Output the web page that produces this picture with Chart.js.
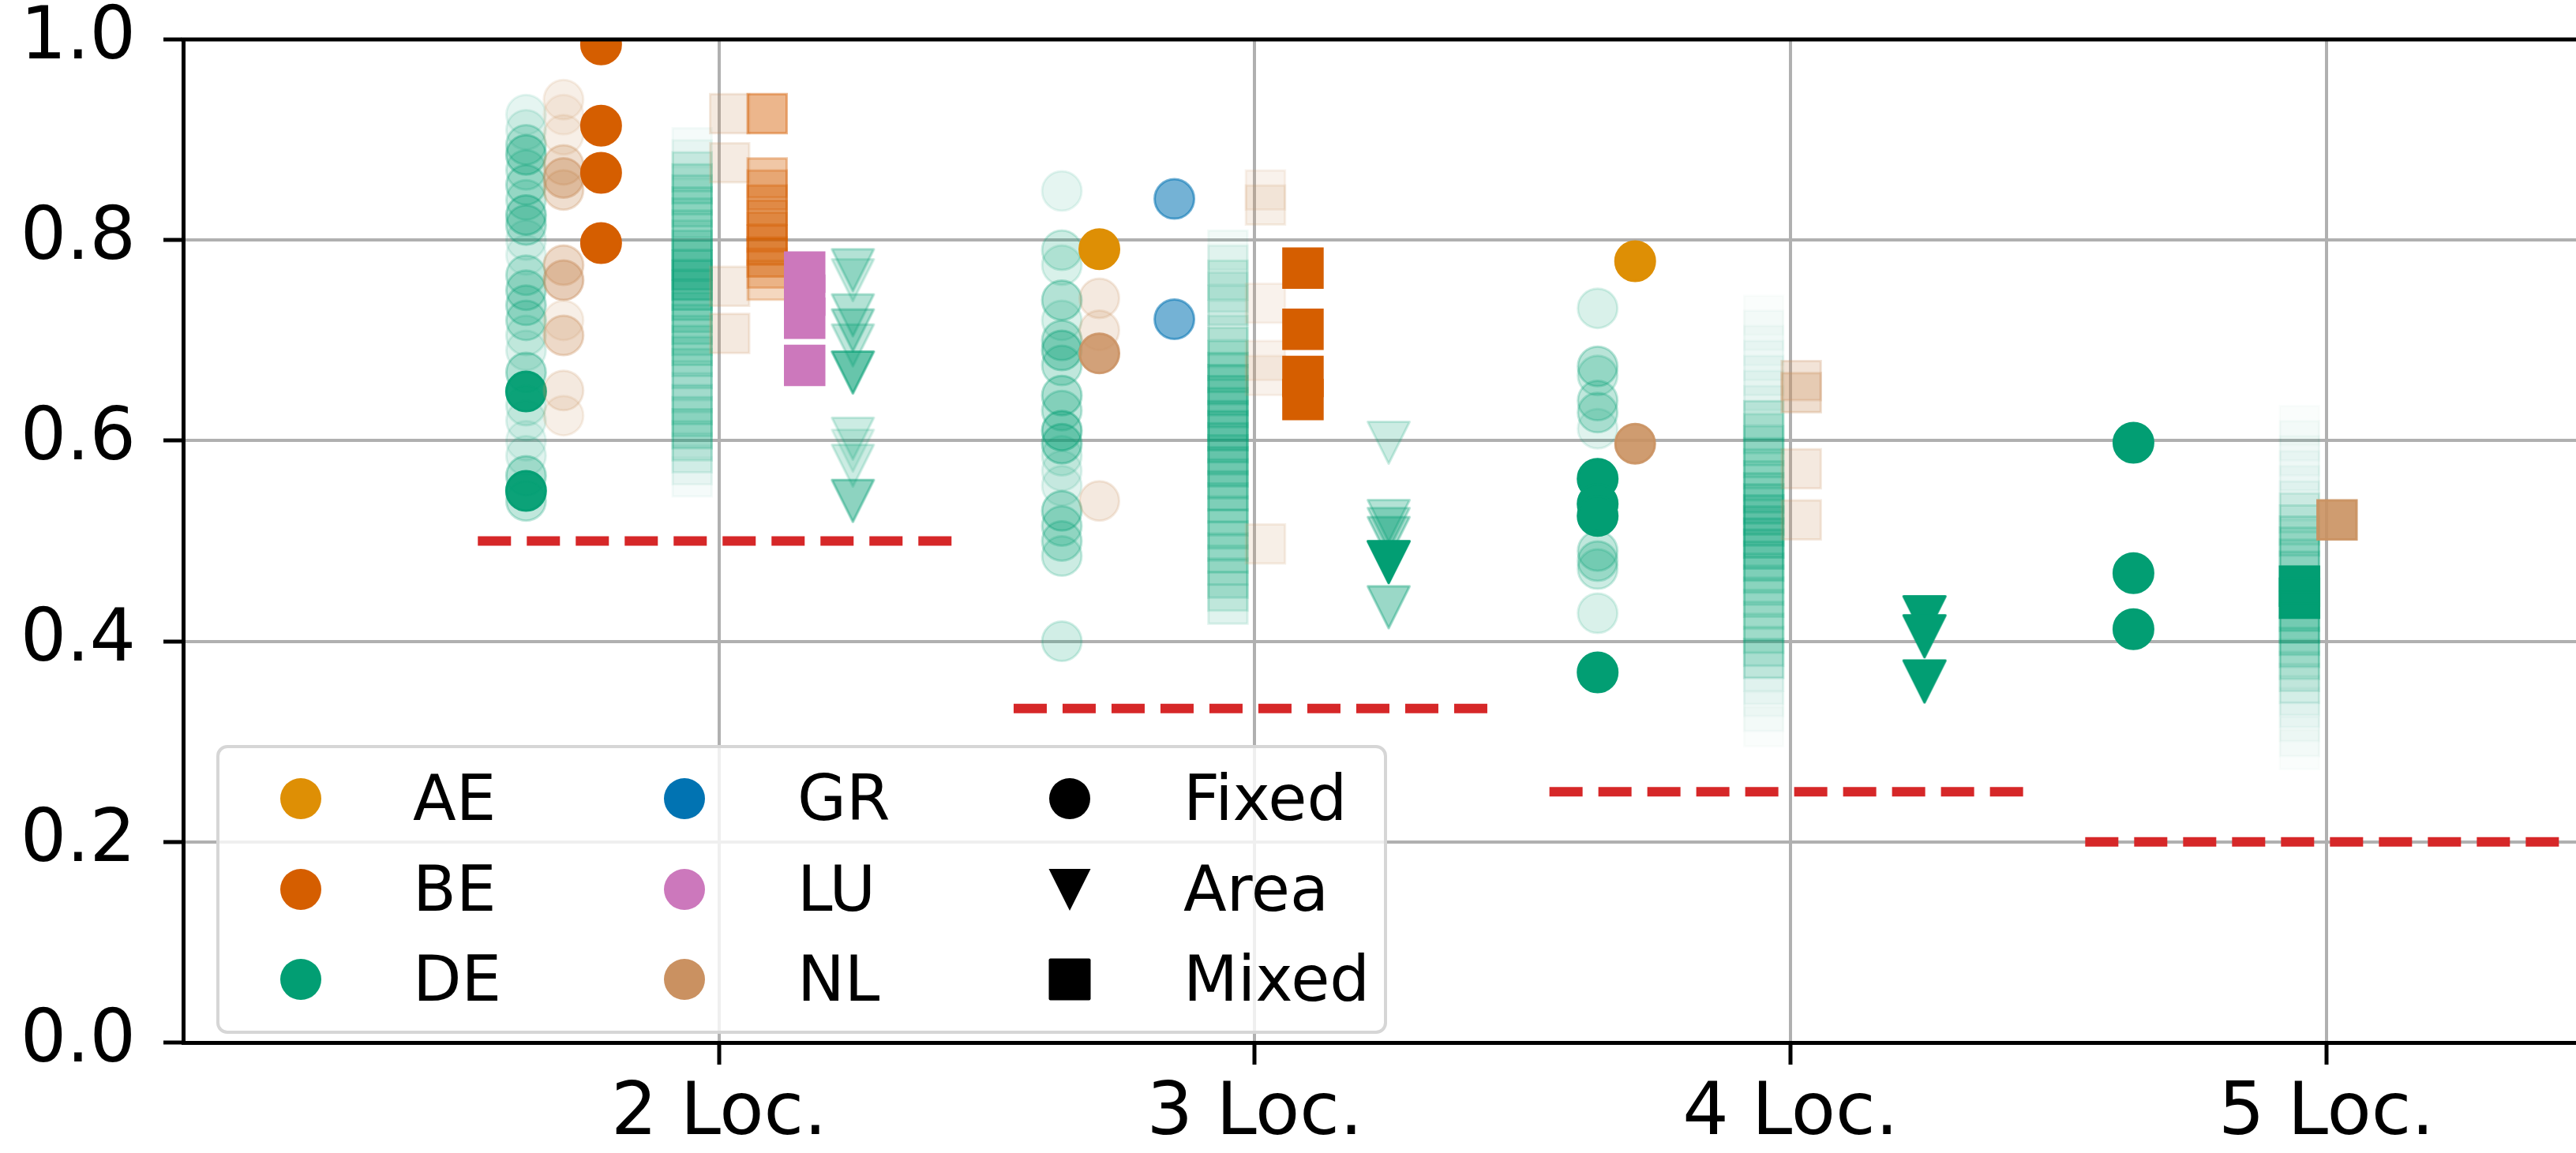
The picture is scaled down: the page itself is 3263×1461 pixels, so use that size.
<!DOCTYPE html>
<html>
<head>
<meta charset="utf-8">
<title>Score per number of locations</title>
<script src="https://cdn.jsdelivr.net/npm/chart.js@4.4.1/dist/chart.umd.min.js"></script>
<style>
  html, body { margin: 0; padding: 0; background: #fff; overflow: hidden; }
  #wrap { position: relative; width: 3263px; height: 1461px; }
  #legend {
    position: absolute; left: 274px; top: 944px; width: 1475px; height: 358px;
    border: 4px solid #d6d6d6; border-radius: 14px; background: rgba(255, 255, 255, 0.8);
    font-family: 'DejaVu Sans', sans-serif; font-size: 80px; color: #000;
  }
  #legend svg, #legend span { position: absolute; }
  #legend span { line-height: 100px; white-space: nowrap; }
</style>
</head>
<body>
<div id="wrap">
  <canvas id="scoreChart" width="3263" height="1461"></canvas>
  <div id="legend"></div>
</div>
<script>
'use strict';

// x categories and y ticks
const locCounts = [2, 3, 4, 5];
const locLabels = ['2 Loc.', '3 Loc.', '4 Loc.', '5 Loc.'];
const yTicks = [0, 0.2, 0.4, 0.6, 0.8, 1.0];
// guessing baseline of each group (red dashed lines)
const chanceLevel = [0.5, 0.333, 0.25, 0.2];

const countries = ['AE', 'BE', 'DE', 'GR', 'LU', 'NL'];
const methods = ['Fixed', 'Area', 'Mixed'];

// every point: [locations, score, weight]  (weight -> marker opacity)
const fixedDE = [
    [2, 0.925, 0.1], [2, 0.91, 0.12], [2, 0.895, 0.25], [2, 0.885, 0.35], [2, 0.87, 0.2],
    [2, 0.855, 0.28], [2, 0.84, 0.2], [2, 0.825, 0.35], [2, 0.815, 0.28], [2, 0.80, 0.12],
    [2, 0.785, 0.1], [2, 0.765, 0.25], [2, 0.75, 0.28], [2, 0.735, 0.28], [2, 0.72, 0.25],
    [2, 0.705, 0.15], [2, 0.69, 0.12], [2, 0.668, 0.3], [2, 0.649, 0.95], [2, 0.635, 0.15],
    [2, 0.62, 0.12], [2, 0.60, 0.1], [2, 0.585, 0.12], [2, 0.565, 0.3], [2, 0.55, 0.95],
    [2, 0.54, 0.25],
    [3, 0.849, 0.1], [3, 0.79, 0.2], [3, 0.775, 0.15], [3, 0.74, 0.3], [3, 0.72, 0.15],
    [3, 0.70, 0.28], [3, 0.69, 0.35], [3, 0.675, 0.25], [3, 0.645, 0.32], [3, 0.63, 0.25],
    [3, 0.61, 0.4], [3, 0.597, 0.35], [3, 0.585, 0.15], [3, 0.57, 0.12], [3, 0.555, 0.12],
    [3, 0.53, 0.32], [3, 0.515, 0.25], [3, 0.50, 0.25], [3, 0.485, 0.2], [3, 0.40, 0.18],
    [4, 0.732, 0.15], [4, 0.674, 0.28], [4, 0.665, 0.2], [4, 0.64, 0.25], [4, 0.628, 0.25],
    [4, 0.612, 0.12], [4, 0.562, 1], [4, 0.537, 1], [4, 0.525, 1], [4, 0.49, 0.25],
    [4, 0.48, 0.25], [4, 0.472, 0.2], [4, 0.428, 0.15], [4, 0.369, 1],
    [5, 0.598, 1], [5, 0.468, 1], [5, 0.412, 1]
];
const fixedNL = [
    [2, 0.94, 0.15], [2, 0.925, 0.12], [2, 0.905, 0.15], [2, 0.875, 0.3], [2, 0.862, 0.45],
    [2, 0.85, 0.3], [2, 0.775, 0.35], [2, 0.76, 0.45], [2, 0.72, 0.15], [2, 0.705, 0.35],
    [2, 0.65, 0.2], [2, 0.625, 0.15],
    [3, 0.742, 0.2], [3, 0.71, 0.2], [3, 0.687, 0.85], [3, 0.54, 0.2],
    [4, 0.597, 0.9]
];
const fixedAE = [[3, 0.791, 1], [4, 0.779, 1]];
const fixedBE = [[2, 0.995, 1], [2, 0.914, 1], [2, 0.867, 1], [2, 0.797, 1]];
const fixedGR = [[3, 0.841, 0.55], [3, 0.721, 0.55]];

const mixedDE = [
    [2, 0.892, 0.04], [2, 0.88, 0.06], [2, 0.868, 0.15], [2, 0.856, 0.2], [2, 0.845, 0.18],
    [2, 0.833, 0.2], [2, 0.822, 0.18], [2, 0.81, 0.2], [2, 0.80, 0.15], [2, 0.79, 0.2],
    [2, 0.78, 0.28], [2, 0.77, 0.32], [2, 0.76, 0.35], [2, 0.75, 0.3], [2, 0.74, 0.25],
    [2, 0.728, 0.2], [2, 0.716, 0.2], [2, 0.705, 0.18], [2, 0.695, 0.2], [2, 0.684, 0.18],
    [2, 0.672, 0.18], [2, 0.66, 0.12], [2, 0.648, 0.12], [2, 0.636, 0.18], [2, 0.624, 0.18],
    [2, 0.612, 0.2], [2, 0.60, 0.15], [2, 0.588, 0.1], [2, 0.576, 0.06], [2, 0.564, 0.04],
    [3, 0.79, 0.05], [3, 0.775, 0.08], [3, 0.76, 0.15], [3, 0.748, 0.1], [3, 0.735, 0.12],
    [3, 0.72, 0.08], [3, 0.705, 0.12], [3, 0.693, 0.15], [3, 0.68, 0.2], [3, 0.668, 0.25],
    [3, 0.656, 0.28], [3, 0.645, 0.28], [3, 0.633, 0.25], [3, 0.62, 0.28], [3, 0.61, 0.3],
    [3, 0.598, 0.28], [3, 0.586, 0.25], [3, 0.574, 0.28], [3, 0.562, 0.2], [3, 0.55, 0.25],
    [3, 0.538, 0.2], [3, 0.525, 0.18], [3, 0.512, 0.2], [3, 0.50, 0.18], [3, 0.488, 0.18],
    [3, 0.476, 0.15], [3, 0.463, 0.18], [3, 0.45, 0.15], [3, 0.437, 0.12],
    [4, 0.725, 0.02], [4, 0.71, 0.03], [4, 0.695, 0.03], [4, 0.68, 0.04], [4, 0.665, 0.05],
    [4, 0.65, 0.05], [4, 0.635, 0.06], [4, 0.62, 0.2], [4, 0.607, 0.15], [4, 0.595, 0.18],
    [4, 0.583, 0.2], [4, 0.572, 0.18], [4, 0.56, 0.2], [4, 0.548, 0.25], [4, 0.537, 0.28],
    [4, 0.526, 0.3], [4, 0.515, 0.28], [4, 0.503, 0.3], [4, 0.492, 0.28], [4, 0.48, 0.25],
    [4, 0.468, 0.2], [4, 0.456, 0.18], [4, 0.444, 0.18], [4, 0.432, 0.15], [4, 0.42, 0.15],
    [4, 0.408, 0.15], [4, 0.395, 0.15], [4, 0.383, 0.18], [4, 0.37, 0.06], [4, 0.357, 0.04],
    [4, 0.345, 0.03], [4, 0.33, 0.03], [4, 0.315, 0.02],
    [5, 0.615, 0.02], [5, 0.60, 0.03], [5, 0.585, 0.03], [5, 0.57, 0.04], [5, 0.555, 0.04],
    [5, 0.54, 0.06], [5, 0.528, 0.12], [5, 0.516, 0.15], [5, 0.505, 0.18], [5, 0.494, 0.18],
    [5, 0.482, 0.18], [5, 0.47, 0.2], [5, 0.455, 1], [5, 0.443, 1], [5, 0.43, 0.25],
    [5, 0.418, 0.25], [5, 0.406, 0.2], [5, 0.394, 0.18], [5, 0.382, 0.15], [5, 0.37, 0.12],
    [5, 0.358, 0.09], [5, 0.346, 0.06], [5, 0.334, 0.04], [5, 0.32, 0.03], [5, 0.305, 0.03],
    [5, 0.292, 0.02]
];
const mixedNL = [
    [2, 0.926, 0.2], [2, 0.877, 0.18], [2, 0.754, 0.18], [2, 0.707, 0.2],
    [3, 0.85, 0.12], [3, 0.835, 0.15], [3, 0.737, 0.12], [3, 0.68, 0.12], [3, 0.665, 0.12],
    [3, 0.497, 0.15],
    [4, 0.66, 0.25], [4, 0.648, 0.3], [4, 0.572, 0.2], [4, 0.521, 0.2],
    [5, 0.521, 0.9]
];
const mixedBE = [
    [2, 0.926, 0.45], [2, 0.862, 0.35], [2, 0.85, 0.3], [2, 0.835, 0.35], [2, 0.82, 0.4],
    [2, 0.808, 0.35], [2, 0.795, 0.45], [2, 0.783, 0.4], [2, 0.772, 0.3], [2, 0.76, 0.25],
    [3, 0.772, 1], [3, 0.711, 1], [3, 0.664, 1], [3, 0.641, 1]
];
const mixedLU = [[2, 0.768, 1], [2, 0.745, 1], [2, 0.722, 1], [2, 0.675, 1]];

const areaDE = [
    [2, 0.77, 0.3], [2, 0.76, 0.2], [2, 0.725, 0.3], [2, 0.71, 0.35], [2, 0.695, 0.25],
    [2, 0.668, 0.6], [2, 0.602, 0.2], [2, 0.59, 0.15], [2, 0.575, 0.2], [2, 0.54, 0.45],
    [3, 0.598, 0.2], [3, 0.52, 0.3], [3, 0.512, 0.3], [3, 0.503, 0.35], [3, 0.479, 1],
    [3, 0.434, 0.4],
    [4, 0.424, 1], [4, 0.405, 1], [4, 0.36, 1]
];

// ---- styling ----
const countryColors = {
    AE: '#de8f05', BE: '#d55e00', DE: '#029e73',
    GR: '#0173b2', LU: '#cc78bc', NL: '#ca9161'
};
// horizontal shift of each method/country column inside a group
const offsets = {
    Fixed: { DE: -0.36, AE: -0.29, NL: -0.29, BE: -0.22, GR: -0.15 },
    Mixed: { DE: -0.05, NL: 0.02, BE: 0.09, LU: 0.16 },
    Area: { DE: 0.25 }
};

function rgba(hex, a) {
    const n = parseInt(hex.slice(1), 16);
    return 'rgba(' + (n >> 16) + ',' + ((n >> 8) & 255) + ',' + (n & 255) + ',' + a + ')';
}

// downward triangle marker (matplotlib 'v'), cached per colour/opacity
const triCache = {};
function triangleDown(color, alpha) {
    const key = color + '_' + alpha;
    if (triCache[key]) return triCache[key];
    const c = document.createElement('canvas');
    c.width = 60; c.height = 60;
    const g = c.getContext('2d');
    g.fillStyle = rgba(color, alpha);
    g.strokeStyle = rgba(color, alpha);
    g.lineWidth = 3;
    g.lineJoin = 'round';
    g.beginPath();
    g.moveTo(3.5, 3.5); g.lineTo(56.5, 3.5); g.lineTo(30, 56.5); g.closePath();
    g.fill(); g.stroke();
    triCache[key] = c;
    return c;
}

// drawing order: first entry ends up at the bottom
const series = [
    { method: 'Mixed', country: 'DE', points: mixedDE },
    { method: 'Mixed', country: 'NL', points: mixedNL },
    { method: 'Mixed', country: 'BE', points: mixedBE },
    { method: 'Mixed', country: 'LU', points: mixedLU },
    { method: 'Fixed', country: 'DE', points: fixedDE },
    { method: 'Fixed', country: 'NL', points: fixedNL },
    { method: 'Fixed', country: 'AE', points: fixedAE },
    { method: 'Fixed', country: 'BE', points: fixedBE },
    { method: 'Fixed', country: 'GR', points: fixedGR },
    { method: 'Area', country: 'DE', points: areaDE }
];

const datasets = [];

series.forEach(function (s) {
    const color = countryColors[s.country];
    const dx = offsets[s.method][s.country];
    const ds = {
        label: s.method + ' ' + s.country,
        data: s.points.map(p => ({ x: p[0] + dx, y: p[1] })),
        pointBackgroundColor: s.points.map(p => rgba(color, p[2])),
        pointBorderColor: s.points.map(p => rgba(color, p[2])),
        pointBorderWidth: 3,
        clip: 0
    };
    if (s.method === 'Fixed') {
        ds.pointStyle = 'circle';
        ds.pointRadius = 25;
    } else if (s.method === 'Mixed') {
        ds.pointStyle = 'rect';
        ds.pointRadius = 35;
    } else {
        ds.pointStyle = s.points.map(p => triangleDown(color, p[2]));
        ds.pointRadius = 27;
    }
    datasets.push(ds);
});

// red dashed guessing baselines
locCounts.forEach(function (loc, i) {
    datasets.push({
        label: 'chance ' + locLabels[i],
        data: [{ x: loc - 0.45, y: chanceLevel[i] }, { x: loc + 0.45, y: chanceLevel[i] }],
        showLine: true,
        borderColor: '#d62728',
        borderWidth: 12,
        borderDash: [42, 20],
        borderCapStyle: 'butt',
        pointRadius: 0,
        clip: 0
    });
});

datasets.forEach(function (ds, i) { ds.order = datasets.length - i; });

// top spine (the right one is cut off in the original figure)
const topSpine = {
    id: 'topSpine',
    afterDraw(chart) {
        const ctx = chart.ctx, a = chart.chartArea;
        ctx.save();
        ctx.strokeStyle = '#000';
        ctx.lineWidth = 5;
        ctx.beginPath();
        ctx.moveTo(a.left - 2.5, a.top);
        ctx.lineTo(a.right, a.top);
        ctx.stroke();
        ctx.restore();
    }
};

Chart.defaults.font.family = "'DejaVu Sans', sans-serif";
Chart.defaults.color = '#000';

new Chart(document.getElementById('scoreChart').getContext('2d'), {
    type: 'scatter',
    data: { datasets: datasets },
    options: {
        responsive: false,
        devicePixelRatio: 1,
        animation: false,
        events: [],
        layout: { autoPadding: false, padding: { top: 50, right: 0, left: 0, bottom: 0 } },
        plugins: { legend: { display: false }, tooltip: { enabled: false } },
        scales: {
            x: {
                type: 'linear',
                min: 1,
                max: 5.466,
                afterBuildTicks: function (scale) {
                    scale.ticks = locCounts.map(v => ({ value: v }));
                },
                afterFit: function (scale) { scale.height = 140; },
                ticks: {
                    autoSkip: false,
                    maxRotation: 0,
                    padding: 9,
                    font: { size: 92 },
                    callback: function (value) { return locLabels[locCounts.indexOf(value)]; }
                },
                grid: {
                    color: '#b0b0b0', lineWidth: 4,
                    tickColor: '#000', tickWidth: 5, tickLength: 28
                },
                border: { color: '#000', width: 5 }
            },
            y: {
                min: 0,
                max: 1,
                afterBuildTicks: function (scale) {
                    scale.ticks = yTicks.map(v => ({ value: v }));
                },
                afterFit: function (scale) {
                    scale.width = 232;
                    scale.paddingTop = 0;
                    scale.paddingBottom = 0;
                },
                ticks: {
                    padding: 35,
                    font: { size: 92, lineHeight: 1 },
                    callback: function (value) { return value.toFixed(1); }
                },
                grid: {
                    color: '#b0b0b0', lineWidth: 4,
                    tickColor: '#000', tickWidth: 5, tickLength: 25
                },
                border: { color: '#000', width: 5 }
            }
        }
    },
    plugins: [topSpine]
});

// legend: colours by country, marker shape by method (column-major, 3 rows)
const legendItems = countries.map(c => ({ label: c, shape: 'circle', color: countryColors[c] }))
    .concat([
        { label: methods[0], shape: 'circle', color: '#000' },
        { label: methods[1], shape: 'triangle', color: '#000' },
        { label: methods[2], shape: 'square', color: '#000' }
    ]);
const markerX = [103, 589, 1077];
const textX = [245, 732, 1221];
const rowY = [64, 179, 293];

const legend = document.getElementById('legend');
legendItems.forEach(function (item, i) {
    const col = Math.floor(i / 3), row = i % 3;
    let shape;
    if (item.shape === 'circle') {
        shape = '<circle cx="28" cy="28" r="26" fill="' + item.color + '"/>';
    } else if (item.shape === 'triangle') {
        shape = '<polygon points="1.5,2 54.5,2 28,55" fill="' + item.color + '"/>';
    } else {
        shape = '<rect x="1.5" y="1.5" width="53" height="53" rx="2" fill="' + item.color + '"/>';
    }
    const svg = document.createElementNS('http://www.w3.org/2000/svg', 'svg');
    svg.setAttribute('width', '56');
    svg.setAttribute('height', '56');
    svg.style.left = (markerX[col] - 28) + 'px';
    svg.style.top = (rowY[row] - 28) + 'px';
    svg.innerHTML = shape;
    legend.appendChild(svg);

    const span = document.createElement('span');
    span.textContent = item.label;
    span.style.left = textX[col] + 'px';
    span.style.top = (rowY[row] - 50) + 'px';
    legend.appendChild(span);
});
</script>
</body>
</html>
